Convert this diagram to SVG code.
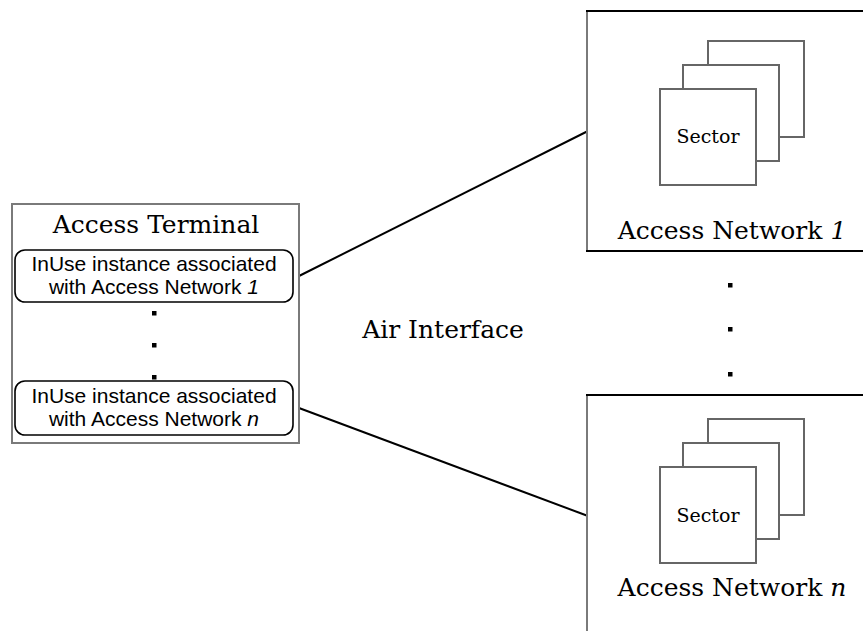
<svg xmlns="http://www.w3.org/2000/svg" width="863" height="631" viewBox="0 0 863 631">
<style>
.serif{font-family:"DejaVu Serif","Liberation Serif",serif;fill:#000}
.sans{font-family:"Liberation Sans",Arial,sans-serif;fill:#000;font-size:21px}
.frame{fill:#fff;stroke:#7a7a7a;stroke-width:2}
.edge{stroke:#000;stroke-width:2;fill:none}
.gray{stroke:#7a7a7a;stroke-width:2;fill:none}
.inuse{fill:#fff;stroke:#000;stroke-width:1.6}
.sector{fill:#fff;stroke:#666;stroke-width:2}
.dot{fill:#000}
</style>
<rect width="863" height="631" fill="#fff"/>
<g id="connectors">
<line class="edge" x1="299" y1="276" x2="588" y2="131"/>
<line class="edge" x1="299" y1="408" x2="588" y2="516"/>
</g>
<g id="access-terminal">
<rect class="frame" x="12" y="204" width="287" height="239"/>
<text class="serif" x="156" y="233" font-size="25" text-anchor="middle">Access Terminal</text>
<rect class="inuse" x="15" y="250" width="278" height="52" rx="10"/>
<text class="sans" x="154" y="271" text-anchor="middle">InUse instance associated</text>
<text class="sans" x="154" y="294" text-anchor="middle">with Access Network <tspan font-style="italic">1</tspan></text>
<rect class="dot" x="152" y="311" width="4.5" height="4.5"/>
<rect class="dot" x="152" y="343" width="4.5" height="4.5"/>
<rect class="dot" x="152" y="375" width="4.5" height="4.5"/>
<rect class="inuse" x="15" y="381" width="278" height="54" rx="10"/>
<text class="sans" x="154" y="403" text-anchor="middle">InUse instance associated</text>
<text class="sans" x="154" y="426" text-anchor="middle">with Access Network <tspan font-style="italic">n</tspan></text>
</g>
<g id="air-interface">
<text class="serif" x="443" y="338" font-size="25" text-anchor="middle">Air Interface</text>
</g>
<g id="access-network-1">
<rect x="587" y="11" width="280" height="240" fill="#fff"/>
<line class="gray" x1="587" y1="11" x2="587" y2="251"/>
<line class="edge" x1="586" y1="11" x2="863" y2="11" stroke="#555"/>
<line class="edge" x1="586" y1="251" x2="863" y2="251"/>
<rect class="sector" x="708" y="41" width="96" height="96"/>
<rect class="sector" x="683" y="65" width="96" height="96"/>
<rect class="sector" x="660" y="89" width="96" height="96"/>
<text class="serif" x="708" y="143" font-size="19" text-anchor="middle">Sector</text>
<text class="serif" x="732" y="239" font-size="25" text-anchor="middle">Access Network <tspan font-style="italic">1</tspan></text>
</g>
<g id="dots-networks">
<rect class="dot" x="728" y="283" width="4.5" height="4.5"/>
<rect class="dot" x="728" y="327" width="4.5" height="4.5"/>
<rect class="dot" x="728" y="372" width="4.5" height="4.5"/>
</g>
<g id="access-network-n">
<rect x="587" y="395" width="280" height="240" fill="#fff"/>
<line class="gray" x1="587" y1="395" x2="587" y2="631"/>
<line class="edge" x1="586" y1="395" x2="863" y2="395"/>
<rect class="sector" x="708" y="419" width="96" height="96"/>
<rect class="sector" x="683" y="443" width="96" height="96"/>
<rect class="sector" x="660" y="467" width="96" height="96"/>
<text class="serif" x="708" y="522" font-size="19" text-anchor="middle">Sector</text>
<text class="serif" x="732" y="596" font-size="25" text-anchor="middle">Access Network <tspan font-style="italic">n</tspan></text>
</g>
</svg>
